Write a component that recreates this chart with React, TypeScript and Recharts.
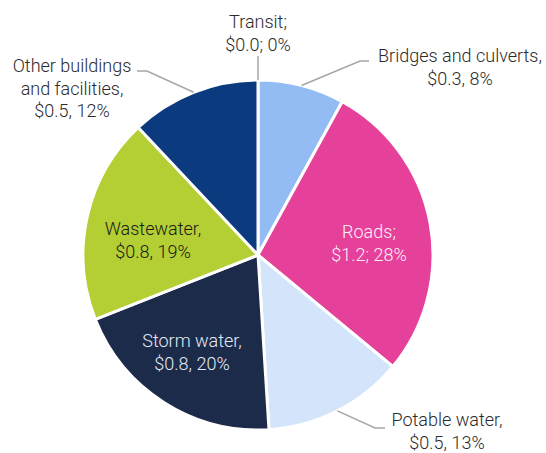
import React from 'react';
import { PieChart, Pie, Cell } from 'recharts';

// capital needs by asset class ($ billions) and share of total
const categories = [
  'Transit',
  'Bridges and culverts',
  'Roads',
  'Potable water',
  'Storm water',
  'Wastewater',
  'Other buildings and facilities',
];
const amounts = [0.0, 0.3, 1.2, 0.5, 0.8, 0.8, 0.5];
const shares = [0, 8, 28, 13, 20, 19, 12];
const labelLines = [
  ['Transit;', '$0.0; 0%'],
  ['Bridges and culverts,', '$0.3, 8%'],
  ['Roads;', '$1.2; 28%'],
  ['Potable water,', '$0.5, 13%'],
  ['Storm water,', '$0.8, 20%'],
  ['Wastewater,', '$0.8, 19%'],
  ['Other buildings', 'and facilities,', '$0.5, 12%'],
];
const colors = ['#7f7f7f', '#94bcf4', '#e5409a', '#d4e4fa', '#1d2b4b', '#b4cf33', '#0c3a7e'];
const textColors = ['#2b2b2b', '#2b2b2b', '#fdf0f7', '#2b2b2b', '#e3eaf6', '#1a1a1a', '#2b2b2b'];

// text block placement relative to pie centre; leader = [elbow, end] for outside labels
const layout: { dx: number; dy: number; leader?: [number, number][] }[] = [
  { dx: 0, dy: -227, leader: [[0, -199], [0, -199]] },
  { dx: 202, dy: -193, leader: [[102, -194], [111, -194]] },
  { dx: 111, dy: -17 },
  { dx: 189, dy: 171, leader: [[117, 173], [127, 173]] },
  { dx: -66, dy: 92 },
  { dx: -105, dy: -20 },
  { dx: -186, dy: -183, leader: [[-111, -184], [-121, -184]] },
];

const data = categories.map((name, i) => ({ name, amount: amounts[i], value: shares[i] }));

const LINE_H = 22.5;
const RAD = Math.PI / 180;

const renderLabel = (props: any) => {
  const { cx, cy, midAngle, outerRadius, index } = props;
  const l = layout[index];
  if (!l) return null;
  let leader = null;
  if (l.leader) {
    const ax = cx + outerRadius * Math.cos(-midAngle * RAD);
    const ay = cy + outerRadius * Math.sin(-midAngle * RAD);
    const pts = [[ax, ay], ...l.leader.map(([x, y]) => [cx + x, cy + y])]
      .map((p) => p.join(','))
      .join(' ');
    leader = <polyline points={pts} fill="none" stroke="#a6a6a6" strokeWidth={1.5} />;
  }
  return (
    <g key={`lbl-${index}`}>
      {leader}
      {labelLines[index].map((t, j) => (
        <text
          key={j}
          x={cx + l.dx}
          y={cy + l.dy + j * LINE_H}
          textAnchor="middle"
          fill={textColors[index]}
          fontSize={18}
          fontWeight={300}
          fontFamily="Roboto, 'Liberation Sans', Arial, sans-serif"
        >
          {t}
        </text>
      ))}
    </g>
  );
};

export default function App() {
  return (
    <div style={{ position: 'absolute', left: 0, top: 0, width: 546, height: 453, background: '#fff' }}>
      <PieChart width={546} height={453} margin={{ top: 0, right: 0, bottom: 0, left: 0 }}>
        <Pie
          data={data}
          dataKey="value"
          nameKey="name"
          cx={258}
          cy={255}
          outerRadius={175}
          startAngle={90}
          endAngle={-270}
          stroke="#ffffff"
          strokeWidth={3}
          label={renderLabel}
          labelLine={false}
          isAnimationActive={false}
        >
          {data.map((d, i) => (
            <Cell key={d.name} fill={colors[i]} />
          ))}
        </Pie>
      </PieChart>
    </div>
  );
}
